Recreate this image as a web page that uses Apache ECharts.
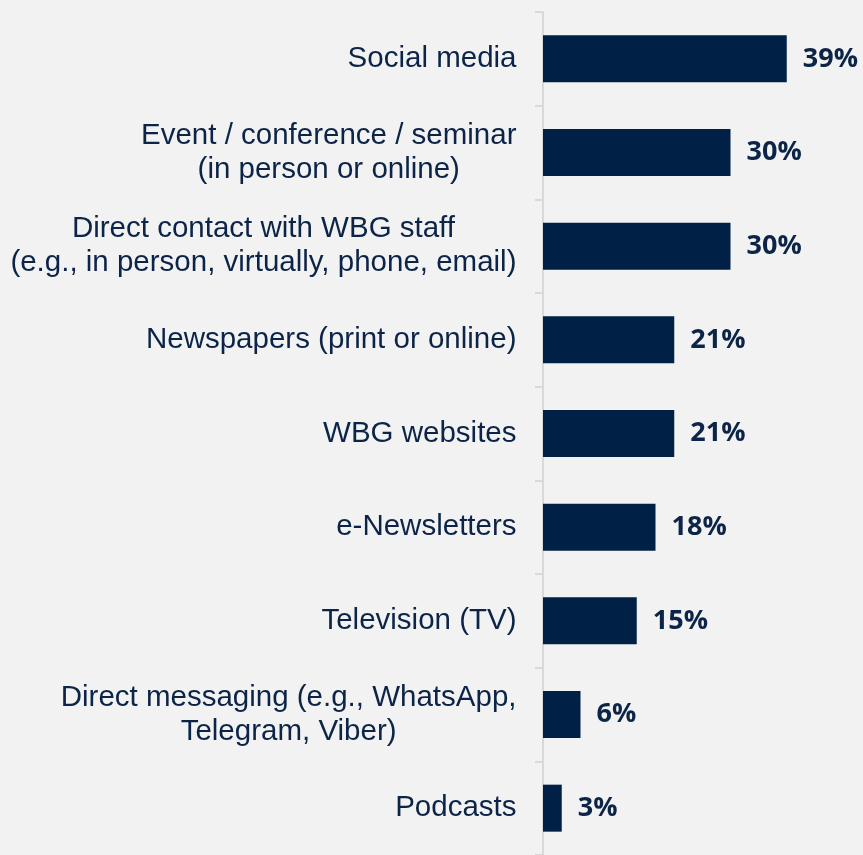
<!DOCTYPE html>
<html><head><meta charset="utf-8">
<script src="https://cdn.jsdelivr.net/npm/echarts@6/dist/echarts.min.js"></script>
<style>html,body{margin:0;padding:0;background:#f2f2f2;}#c{width:863px;height:855px;}</style>
</head><body><div id="c"></div>
<script>
const categories = [
  "Social media",
  "Event / conference / seminar\n(in person or online)",
  "Direct contact with WBG staff\n(e.g., in person, virtually, phone, email)",
  "Newspapers (print or online)",
  "WBG websites",
  "e-Newsletters",
  "Television (TV)",
  "Direct messaging (e.g., WhatsApp,\nTelegram, Viber)",
  "Podcasts"
];
const values = [39, 30, 30, 21, 21, 18, 15, 6, 3];

const FONT_SIZE = 29.5;
const FONT_FAMILY = 'Liberation Sans, Arial, sans-serif';
const ctx = document.createElement('canvas').getContext('2d');
ctx.font = FONT_SIZE + 'px ' + FONT_FAMILY;
const rich = {};
const labelMap = {};
categories.forEach((c, i) => {
  const lines = c.split('\n');
  const w = Math.max(...lines.map(l => ctx.measureText(l).width)) + 1;
  rich['r' + i] = { width: w, align: 'center', color: '#0c2447', fontFamily: FONT_FAMILY, fontSize: FONT_SIZE, lineHeight: 34 };
  labelMap[c] = lines.map(l => '{r' + i + '|' + l + '}').join('\n');
});

const chart = echarts.init(document.getElementById('c'));
chart.setOption({
  backgroundColor: '#f2f2f2',
  animation: false,
  grid: { left: 543, top: 12, right: 0, height: 846, containLabel: false },
  xAxis: { type: 'value', min: 0, max: 51.2, show: false },
  yAxis: {
    type: 'category', data: categories, inverse: true,
    axisLine: { show: true, lineStyle: { color: '#d9d9d9', width: 2 } },
    axisTick: { show: true, length: 8, lineStyle: { color: '#d9d9d9', width: 2 } },
    axisLabel: { color: '#0c2447', fontFamily: FONT_FAMILY, fontSize: FONT_SIZE, lineHeight: 34, margin: 26, align: 'right',
      formatter: v => labelMap[v], rich: rich }
  },
  series: [{
    type: 'bar', data: values, barWidth: 47,
    itemStyle: { color: '#002145' },
    label: { show: true, position: 'right', distance: 16, formatter: '{c}%', color: '#0c2447',
      fontFamily: 'Open Sans, sans-serif', fontWeight: 'bold', fontSize: 27 }
  }]
});
</script></body></html>
